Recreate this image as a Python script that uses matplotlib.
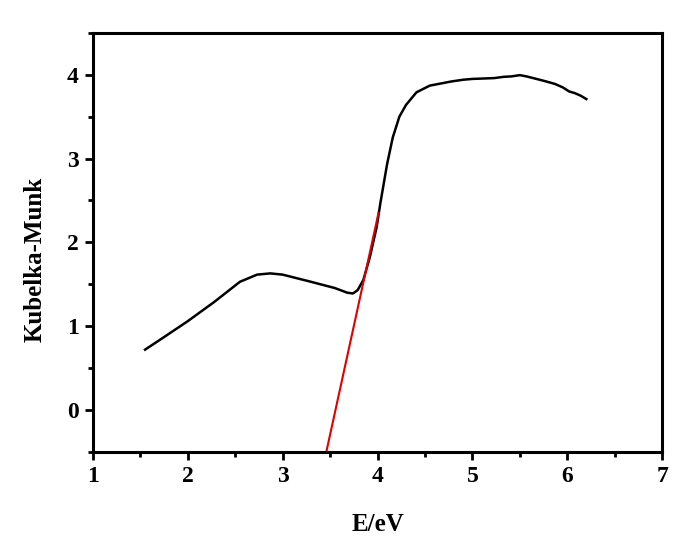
import matplotlib
matplotlib.use('Agg')
import matplotlib.pyplot as plt
from matplotlib.ticker import MultipleLocator

# Kubelka-Munk curve
energy = [1.55, 1.75, 2.0, 2.28, 2.55, 2.73, 2.87, 3.0, 3.28, 3.55, 3.68, 3.74,
          3.79, 3.85, 3.92, 3.99, 4.03, 4.10, 4.16, 4.23, 4.30, 4.41, 4.55,
          4.78, 4.90, 5.0, 5.12, 5.23, 5.33, 5.41, 5.50, 5.57, 5.64, 5.76,
          5.87, 5.95, 6.02, 6.08, 6.14, 6.20]
km = [0.72, 0.87, 1.06, 1.29, 1.53, 1.615, 1.63, 1.615, 1.535, 1.455, 1.40,
      1.39, 1.43, 1.55, 1.83, 2.18, 2.47, 2.93, 3.25, 3.50, 3.64, 3.79, 3.87,
      3.92, 3.94, 3.95, 3.955, 3.96, 3.975, 3.98, 3.995, 3.98, 3.96, 3.925,
      3.89, 3.85, 3.80, 3.78, 3.75, 3.71]

# tangent used for the band gap
fit_x = [3.46, 4.01]
fit_y = [-0.5, 2.35]

plt.rcParams['font.family'] = 'Liberation Serif'
plt.rcParams['font.weight'] = 'bold'

fig = plt.figure(figsize=(6.73, 5.38), dpi=100)
ax = fig.add_axes([0.138, 0.160, 0.846, 0.779])

ax.plot(energy, km, color='black', lw=1.8)
ax.plot(fit_x, fit_y, color='#e00000', lw=1.5)

ax.set_xlim(1, 7)
ax.set_ylim(-0.5, 4.5)
ax.xaxis.set_major_locator(MultipleLocator(1))
ax.xaxis.set_minor_locator(MultipleLocator(0.5))
ax.yaxis.set_major_locator(MultipleLocator(1))
ax.yaxis.set_minor_locator(MultipleLocator(0.5))
ax.tick_params(which='major', direction='out', length=6, width=2, labelsize=17, pad=4)
ax.tick_params(which='minor', direction='out', length=3.5, width=2)
for s in ax.spines.values():
    s.set_linewidth(2.2)
for lab in ax.get_xticklabels() + ax.get_yticklabels():
    lab.set_fontweight('bold')

ax.set_xlabel('E/eV', fontsize=18, fontweight='bold', labelpad=19)
ax.set_ylabel('Kubelka-Munk', fontsize=18, fontweight='bold')
ax.yaxis.set_label_coords(-0.081, 0.46)

fig.savefig('out.png', dpi=100)
